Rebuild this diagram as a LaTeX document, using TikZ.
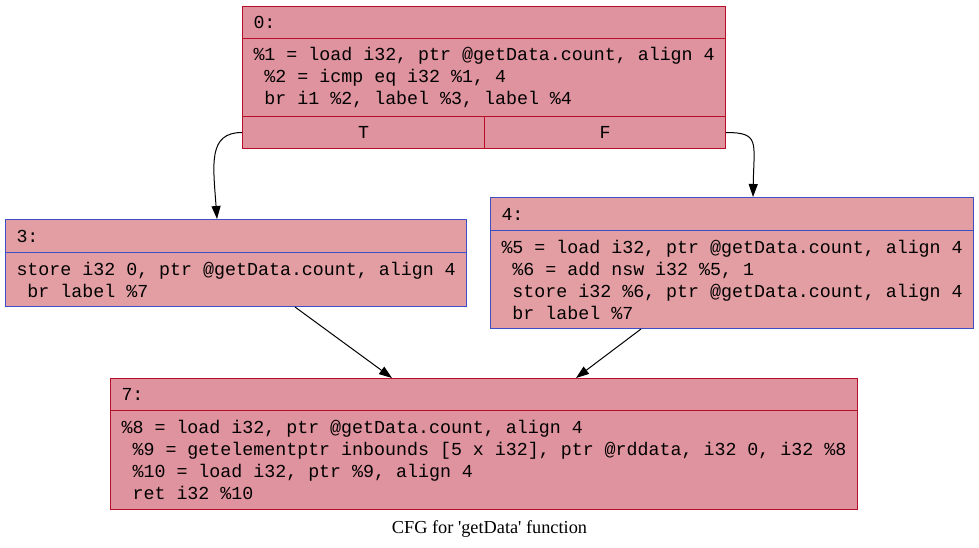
\documentclass[tikz,border=0pt]{standalone}
\usepackage{fontspec}
\setmonofont{Liberation Mono}
\newfontfamily\capfont{Liberation Serif}
\usepackage{xcolor}
\usetikzlibrary{arrows.meta,positioning}

\definecolor{hotline}{HTML}{B70D28}
\definecolor{hotfill}{HTML}{DF939E}
\definecolor{warmline}{HTML}{3D50C3}
\definecolor{warmfill}{HTML}{E29EA2}

\newcommand{\codefont}{\ttfamily\frenchspacing\fontsize{18.3}{22}\selectfont}

\begin{document}
\begin{tikzpicture}[x=1pt, y=-1pt,
    cell/.style={rectangle, line width=1pt, inner xsep=11pt, inner ysep=0pt,
      anchor=north west, align=left, font=\codefont},
    hotcell/.style={cell, draw=hotline, fill=hotfill},
    warmcell/.style={cell, draw=warmline, fill=warmfill},
    edge/.style={line width=1pt, -{Triangle[length=13pt, width=9pt]}}]
    \useasboundingbox (0, 0) rectangle (979, 548);

    % Block 0 (entry)
    \node[hotcell, text width=461pt, minimum height=32pt] (hd0) at (242, 6) {0:};
    \node[hotcell, minimum width=483pt, minimum height=78pt] (bd0) at (242, 38)
      {\%1 = load i32, ptr @getData.count, align 4\\
       ~\%2 = icmp eq i32 \%1, 4\\
       ~br i1 \%2, label \%3, label \%4};
    \node[hotcell, align=center, minimum width=242pt, minimum height=32pt] (tt0) at (242, 116) {T};
    \node[hotcell, align=center, minimum width=241pt, minimum height=32pt] (ff0) at (484, 116) {F};

    % Block 3
    \node[warmcell, text width=439pt, minimum height=33pt] (hd3) at (5, 219) {3:};
    \node[warmcell, minimum width=461pt, minimum height=54pt] (bd3) at (5, 252)
      {store i32 0, ptr @getData.count, align 4\\
       ~br label \%7};

    % Block 4
    \node[warmcell, text width=461pt, minimum height=33pt] (hd4) at (490, 197) {4:};
    \node[warmcell, minimum width=483pt, minimum height=98pt] (bd4) at (490, 230)
      {\%5 = load i32, ptr @getData.count, align 4\\
       ~\%6 = add nsw i32 \%5, 1\\
       ~store i32 \%6, ptr @getData.count, align 4\\
       ~br label \%7};

    % Block 7 (exit)
    \node[hotcell, text width=725pt, minimum height=32pt] (hd7) at (110, 378) {7:};
    \node[hotcell, minimum width=747pt, minimum height=99pt] (bd7) at (110, 410)
      {\%8 = load i32, ptr @getData.count, align 4\\
       ~\%9 = getelementptr inbounds [5 x i32], ptr @rddata, i32 0, i32 \%8\\
       ~\%10 = load i32, ptr \%9, align 4\\
       ~ret i32 \%10};

    % Branch edges
    \draw[edge] (tt0.west) .. controls +(-34, 0) and +(-4, -55) .. ([xshift=212pt]hd3.north west);
    \draw[edge] (ff0.east) .. controls +(34, 0) and +(1, -55) .. ([xshift=263pt]hd4.north west);
    \draw[edge] ([xshift=290pt]bd3.south west) -- ([xshift=282pt]hd7.north west);
    \draw[edge] ([xshift=151pt]bd4.south west) -- ([xshift=466pt]hd7.north west);

    % Caption
    \node[anchor=base, font=\capfont\fontsize{18.3}{22}\selectfont] (cap) at (489.5, 533)
      {CFG for \textquotesingle getData\textquotesingle{} function};
\end{tikzpicture}
\end{document}
